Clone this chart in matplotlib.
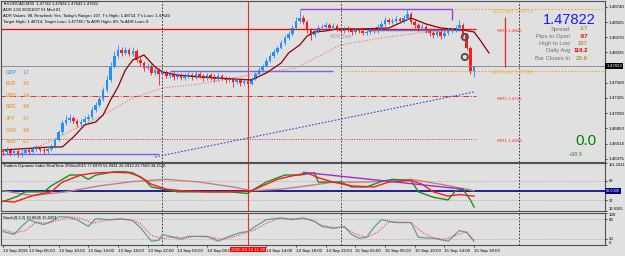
import numpy as np
import matplotlib.pyplot as plt
import matplotlib.transforms as mtransforms

# EURCAD M30, one bar per half hour from 13 Sep 02:30 to 15 Sep 18:00
opens = [1.46499, 1.46484, 1.46515, 1.46468, 1.46499, 1.46437, 1.46468, 1.46515,
         1.46484, 1.46531, 1.46546, 1.46515, 1.46499, 1.46531, 1.46562, 1.46671,
         1.46795, 1.46935, 1.46982, 1.47013, 1.46966, 1.46920, 1.46951, 1.46997,
         1.47028, 1.47137, 1.47215, 1.47309, 1.47449, 1.47604, 1.47822, 1.47978,
         1.48071, 1.48024, 1.48071, 1.48009, 1.48055, 1.47915, 1.47869, 1.47791,
         1.47822, 1.47713, 1.47760, 1.47698, 1.47729, 1.47666, 1.47698, 1.47651,
         1.47682, 1.47635, 1.47666, 1.47682, 1.47651, 1.47698, 1.47666, 1.47635,
         1.47682, 1.47651, 1.47620, 1.47666, 1.47635, 1.47604, 1.47620, 1.47573,
         1.47604, 1.47558, 1.47589, 1.47542, 1.47620, 1.47698, 1.47760, 1.47822,
         1.47900, 1.47978, 1.48040, 1.48102, 1.48180, 1.48258, 1.48320, 1.48413,
         1.48522, 1.48569, 1.48507, 1.48382, 1.48305, 1.48367, 1.48413, 1.48429,
         1.48460, 1.48413, 1.48444, 1.48398, 1.48367, 1.48413, 1.48382, 1.48351,
         1.48382, 1.48367, 1.48336, 1.48351, 1.48382, 1.48367, 1.48429, 1.48476,
         1.48538, 1.48507, 1.48522, 1.48553, 1.48522, 1.48569, 1.48631, 1.48507,
         1.48460, 1.48413, 1.48429, 1.48382, 1.48336, 1.48305, 1.48351, 1.48289,
         1.48336, 1.48367, 1.48382, 1.48413, 1.48460, 1.48305, 1.48102, 1.47742]
highs = [1.46530, 1.46560, 1.46540, 1.46530, 1.46520, 1.46510, 1.46560, 1.46540,
         1.46580, 1.46600, 1.46580, 1.46560, 1.46570, 1.46610, 1.46700, 1.46830,
         1.46980, 1.47060, 1.47070, 1.47040, 1.46990, 1.47000, 1.47050, 1.47080,
         1.47180, 1.47260, 1.47360, 1.47500, 1.47660, 1.47880, 1.48050, 1.48150,
         1.48110, 1.48120, 1.48100, 1.48110, 1.48080, 1.47960, 1.47900, 1.47870,
         1.47850, 1.47800, 1.47790, 1.47770, 1.47760, 1.47740, 1.47730, 1.47720,
         1.47710, 1.47720, 1.47730, 1.47710, 1.47740, 1.47730, 1.47700, 1.47720,
         1.47710, 1.47690, 1.47710, 1.47700, 1.47670, 1.47660, 1.47650, 1.47640,
         1.47630, 1.47620, 1.47610, 1.47650, 1.47730, 1.47800, 1.47860, 1.47940,
         1.48020, 1.48080, 1.48140, 1.48220, 1.48300, 1.48370, 1.48460, 1.48580,
         1.48700, 1.48610, 1.48540, 1.48410, 1.48410, 1.48460, 1.48480, 1.48510,
         1.48490, 1.48490, 1.48470, 1.48430, 1.48450, 1.48440, 1.48410, 1.48420,
         1.48420, 1.48400, 1.48390, 1.48420, 1.48420, 1.48470, 1.48520, 1.48580,
         1.48570, 1.48570, 1.48600, 1.48590, 1.48610, 1.48714, 1.48660, 1.48540,
         1.48490, 1.48470, 1.48460, 1.48410, 1.48370, 1.48390, 1.48380, 1.48380,
         1.48410, 1.48430, 1.48460, 1.48540, 1.48490, 1.48330, 1.48130, 1.47824]
lows = [1.46440, 1.46450, 1.46420, 1.46430, 1.46400, 1.46410, 1.46450, 1.46450,
        1.46470, 1.46500, 1.46480, 1.46460, 1.46470, 1.46500, 1.46540, 1.46650,
        1.46770, 1.46900, 1.46950, 1.46930, 1.46870, 1.46890, 1.46930, 1.46970,
        1.47000, 1.47100, 1.47190, 1.47280, 1.47420, 1.47580, 1.47790, 1.47950,
        1.47980, 1.47990, 1.47970, 1.47980, 1.47880, 1.47820, 1.47740, 1.47760,
        1.47680, 1.47680, 1.47530, 1.47660, 1.47630, 1.47640, 1.47610, 1.47620,
        1.47600, 1.47600, 1.47630, 1.47610, 1.47620, 1.47630, 1.47590, 1.47600,
        1.47610, 1.47580, 1.47590, 1.47600, 1.47560, 1.47570, 1.47500, 1.47540,
        1.47510, 1.47530, 1.47480, 1.47520, 1.47600, 1.47670, 1.47740, 1.47800,
        1.47880, 1.47950, 1.48010, 1.48080, 1.48150, 1.48230, 1.48290, 1.48390,
        1.48490, 1.48470, 1.48340, 1.48230, 1.48280, 1.48340, 1.48380, 1.48400,
        1.48380, 1.48380, 1.48360, 1.48330, 1.48340, 1.48350, 1.48310, 1.48320,
        1.48330, 1.48300, 1.48300, 1.48320, 1.48330, 1.48340, 1.48400, 1.48450,
        1.48470, 1.48480, 1.48490, 1.48490, 1.48490, 1.48540, 1.48470, 1.48420,
        1.48370, 1.48380, 1.48340, 1.48290, 1.48250, 1.48270, 1.48240, 1.48260,
        1.48300, 1.48330, 1.48350, 1.48380, 1.48280, 1.48070, 1.47700, 1.47643]
closes = [1.46484, 1.46515, 1.46468, 1.46499, 1.46437, 1.46468, 1.46515, 1.46484,
          1.46531, 1.46546, 1.46515, 1.46499, 1.46531, 1.46562, 1.46671, 1.46795,
          1.46935, 1.46982, 1.47013, 1.46966, 1.46920, 1.46951, 1.46997, 1.47028,
          1.47137, 1.47215, 1.47309, 1.47449, 1.47604, 1.47822, 1.47978, 1.48071,
          1.48024, 1.48071, 1.48009, 1.48055, 1.47915, 1.47869, 1.47791, 1.47822,
          1.47713, 1.47760, 1.47698, 1.47729, 1.47666, 1.47698, 1.47651, 1.47682,
          1.47635, 1.47666, 1.47682, 1.47651, 1.47698, 1.47666, 1.47635, 1.47682,
          1.47651, 1.47620, 1.47666, 1.47635, 1.47604, 1.47620, 1.47573, 1.47604,
          1.47558, 1.47589, 1.47542, 1.47620, 1.47698, 1.47760, 1.47822, 1.47900,
          1.47978, 1.48040, 1.48102, 1.48180, 1.48258, 1.48320, 1.48413, 1.48522,
          1.48569, 1.48507, 1.48382, 1.48305, 1.48367, 1.48413, 1.48429, 1.48460,
          1.48413, 1.48444, 1.48398, 1.48367, 1.48413, 1.48382, 1.48351, 1.48382,
          1.48367, 1.48336, 1.48351, 1.48382, 1.48367, 1.48429, 1.48476, 1.48538,
          1.48507, 1.48522, 1.48553, 1.48522, 1.48569, 1.48631, 1.48507, 1.48460,
          1.48413, 1.48429, 1.48382, 1.48336, 1.48305, 1.48351, 1.48289, 1.48336,
          1.48367, 1.48382, 1.48413, 1.48460, 1.48305, 1.48102, 1.47742, 1.47822]

# moving averages (at a few bars)
fast_bars = [0, 13, 16, 19, 22, 25, 27, 29, 31, 33, 35, 38, 41, 43, 47, 53, 67, 71,
             75, 77, 80, 82, 84, 87, 90, 96, 104, 107, 110, 114, 118, 124, 127, 129, 131]
fast_ma = [1.46515, 1.46562, 1.46562, 1.46717, 1.46904, 1.46951, 1.47060, 1.47293,
           1.47495, 1.47760, 1.47915, 1.47993, 1.47806, 1.47729, 1.47682, 1.47651,
           1.47604, 1.47713, 1.47869, 1.48024, 1.48149, 1.48289, 1.48351, 1.48367,
           1.48398, 1.48398, 1.48413, 1.48491, 1.48569, 1.48476, 1.48413, 1.48382,
           1.48351, 1.48196, 1.48024]
slow_bars = [0, 10, 20, 26, 35, 43, 53, 68, 79, 91, 102, 112, 122, 127]
slow_ma = [1.46437, 1.46577, 1.46857, 1.47028, 1.47324, 1.47480, 1.47542, 1.47698,
           1.47791, 1.48149, 1.48258, 1.48336, 1.48382, 1.48382]

# Traders Dynamic Index
tdi_green_bars = [0, 4, 6, 11, 13, 15, 18, 21, 23, 25, 30, 33, 35, 38, 40, 43, 47, 53, 58, 61,
                  66, 67, 71, 76, 80, 84, 85, 91, 94, 98, 102, 105, 110, 112, 116, 120, 122, 124, 126, 127]
tdi_green = [30, 40, 48, 48, 59, 67, 79, 79, 71, 79, 85, 85, 83, 71, 57, 53, 48, 48, 48, 48,
             45, 50, 66, 79, 79, 83, 66, 66, 57, 57, 67, 71, 69, 48, 38, 33, 50, 53, 33, 20]
tdi_red_bars = [0, 3, 8, 13, 16, 21, 25, 30, 34, 37, 40, 44, 48, 55, 62, 67, 70, 74, 77, 82,
                85, 89, 94, 100, 104, 110, 113, 116, 120, 123, 127]
tdi_red = [31, 29, 41, 48, 66, 79, 83, 84, 83, 76, 62, 53, 50, 48, 48, 50, 59, 71, 76, 83,
           74, 66, 59, 57, 66, 69, 62, 48, 40, 43, 40]
tdi_base_bars = [0, 8, 17, 26, 35, 44, 53, 62, 67, 75, 82, 89, 98, 110, 118, 127]
tdi_base = [50, 41, 48, 59, 67, 71, 66, 57, 50, 53, 59, 66, 66, 71, 62, 50]

# Stochastic 8,3,3
stoch_bars = [0, 3, 5, 7, 9, 11, 13, 15, 17, 20, 23, 25, 29, 32, 35, 37, 40, 42, 43, 46,
              48, 50, 55, 58, 61, 64, 66, 68, 71, 75, 78, 81, 84, 86, 89, 92, 94, 96, 98, 100,
              102, 106, 110, 112, 116, 120, 123, 125, 127]
stoch_main = [42, 33, 58, 79, 70, 64, 73, 88, 88, 79, 58, 82, 79, 82, 76, 55, 12, 15, 33, 24,
              18, 27, 27, 12, 27, 39, 42, 58, 79, 85, 79, 85, 73, 58, 52, 58, 33, 21, 24, 55,
              79, 70, 70, 24, 21, 12, 45, 39, 11]
stoch_sig_bars = [0, 3, 6, 9, 12, 15, 18, 21, 24, 27, 30, 34, 37, 40, 43, 46, 49, 52, 56, 59,
                  62, 65, 68, 71, 74, 77, 80, 83, 86, 89, 92, 95, 98, 101, 104, 107, 110, 113, 116, 119,
                  122, 125, 127]
stoch_signal = [48, 38, 45, 72, 68, 78, 88, 84, 68, 75, 80, 80, 68, 30, 20, 26, 22, 27, 24, 18,
                25, 36, 48, 68, 82, 82, 82, 80, 62, 55, 55, 35, 24, 40, 72, 72, 70, 40, 22, 18,
                30, 42, 15]

# levels
day_open = 1.48392
bid = 1.47822
adr_high = 1.48714
adr_low = 1.47738
wr2 = 1.47350
wr1 = 1.46690

price_ticks = [1.48740, 1.48505, 1.48270, 1.48035, 1.47560, 1.47325, 1.47090,
               1.46850, 1.46615, 1.46375]
time_bars = [0, 7, 15, 23, 31, 39, 47, 55, 71, 79, 87, 95, 103, 111, 119, 127]
time_labels = ['13 Sep 2016', '13 Sep 06:00', '13 Sep 10:00', '13 Sep 14:00', '13 Sep 18:00',
               '13 Sep 22:00', '14 Sep 02:00', '14 Sep 06:00', '14 Sep 14:00', '14 Sep 18:00',
               '14 Sep 22:00', '15 Sep 02:00', '15 Sep 06:00', '15 Sep 10:00', '15 Sep 14:00',
               '15 Sep 18:00']
currencies = ['GBP', 'EUR', 'USD', 'NZD', 'JPY', 'CAD', 'AUD']
strength = ['1.7', '3.0', '3.4', '4.6', '4.7', '4.9', '6.3']
info_labels = ['Spread', 'Pips to Open', 'High to Low', 'Daily Avg', 'Bar Closes In']
info_values = ['3.7', '-57', '107', '119.2', '23:6']

BG = '#e0e0e0'
W, H = 625, 256
plt.rcParams['font.family'] = ['Liberation Sans', 'DejaVu Sans']

fig = plt.figure(figsize=(W / 100, H / 100), dpi=100, facecolor=BG)


def pane(top, bottom):
    ax = fig.add_axes([1 / W, 1 - bottom / H, 604 / W, (bottom - top) / H])
    ax.set_facecolor(BG)
    for s in ax.spines.values():
        s.set_color('#505050')
        s.set_linewidth(0.8)
    ax.set_xlim(-0.54, 162.3)
    ax.yaxis.tick_right()
    ax.tick_params(axis='y', labelsize=3.2, length=1.5, width=0.5, pad=1)
    ax.tick_params(axis='x', length=0)
    ax.set_xticks([])
    return ax


def ftext(x, y, s, **kw):
    kw.setdefault('va', 'center')
    fig.text(x / W, 1 - y / H, s, **kw)


main = pane(1, 162)
tdi = pane(163, 211)
sto = pane(213, 245)

main.set_ylim(1.46328, 1.48833)
main.set_yticks(price_ticks)
main.set_yticklabels(['%.5f' % p for p in price_ticks])

# separators and the crosshair line
for ax in (main, tdi, sto):
    for d in (43, 91, 139):
        ax.axvline(d, color='#202020', lw=0.6, ls=(0, (2, 2)))
    ax.axvline(66, color='#e03030', lw=0.8)

# horizontal levels
main.hlines(day_open, -1, 127.5, color='#ff0000', lw=0.9)
main.axhline(bid, color='#909090', lw=0.7)
main.hlines([adr_high, adr_low], 91, 163, color='#f0a830', lw=0.8, ls=(0, (1.5, 1.5)))
main.hlines(wr2, -1, 127.5, color='#e03030', lw=0.7, ls='-.')
main.hlines(wr1, -1, 127.5, color='#e03030', lw=0.7, ls=(0, (1, 1.5)))
main.hlines([1.46453, 1.47745, 1.48382], [-1, 45, 98], [42, 89, 124], color='#6a6ae0', lw=1)
main.hlines(adr_high, 80, 121, color='#a040e0', lw=1)
main.vlines(121, 1.48530, adr_high, color='#a040e0', lw=1)
main.vlines(135.3, 1.47806, 1.48584, color='#ff2020', lw=0.9)
main.plot([41, 127], [1.46406, 1.47418], color='#4040d0', lw=0.8, ls=(0, (1.5, 1.5)))

# moving averages
main.plot(slow_bars, slow_ma, color='#f07070', lw=0.8, ls=(0, (1, 1.5)))
main.plot(fast_bars, fast_ma, color='#8b0000', lw=0.9)

# candles
bars = np.arange(len(closes))
o = np.array(opens)
c = np.array(closes)
cols = np.where(c >= o, '#1e90ff', '#ff1a1a')
main.vlines(bars, lows, highs, colors=cols, lw=0.6)
main.bar(bars, np.maximum(np.abs(c - o), 0.00004), bottom=np.minimum(o, c),
         width=0.7, color=cols, linewidth=0)

main.scatter([124.5, 124.5], [1.48273, 1.47962], s=20, facecolors='none',
             edgecolors='#505050', linewidths=1.4, zorder=5)

# current price box on the axis
tr = mtransforms.blended_transform_factory(main.transAxes, main.transData)
main.text(1.002, bid, '%.5f' % bid, transform=tr, fontsize=3.2, color='white',
          va='center', ha='left', bbox=dict(fc='black', ec='none', pad=0.6))

# Traders Dynamic Index pane
tdi.set_ylim(12.6165, 101.1811)
tdi.set_yticks([101.1811, 68, 32, 12.6165])
tdi.set_yticklabels(['101.1811', '68', '32', '12.6165'])
tdi.tick_params(axis='y', labelsize=2.9)
tl = tdi.get_yticklabels()
tl[0].set_va('top')
tl[-1].set_va('bottom')
tdi.axhline(50, color='#000080', lw=1.2)
tdi.axhline(68, color='#a0a0a0', lw=0.6, ls=(0, (1, 1.5)))
tdi.axhline(32, color='#a0a0a0', lw=0.6, ls=(0, (1, 1.5)))
tdi.plot(tdi_base_bars, tdi_base, color='#c08080', lw=1)
tdi.plot(tdi_green_bars, tdi_green, color='#1e8c1e', lw=1)
tdi.plot(tdi_red_bars, tdi_red, color='#ff1a1a', lw=1)
tdi.plot([81, 124], [84, 53], color='#9932cc', lw=1)
tr = mtransforms.blended_transform_factory(tdi.transAxes, tdi.transData)
tdi.text(1.002, 50, '50.0000', transform=tr, fontsize=2.9, color='white',
         va='center', ha='left', bbox=dict(fc='#000080', ec='none', pad=0.6))

# Stochastic pane
sto.set_ylim(0, 100)
sto.set_yticks([100, 80, 20, 0])
sto.set_yticklabels(['100', '80', '20', '0'])
sl = sto.get_yticklabels()
sl[0].set_va('top')
sl[-1].set_va('bottom')
sto.axhline(80, color='#a0a0a0', lw=0.6, ls=(0, (1, 1.5)))
sto.axhline(20, color='#a0a0a0', lw=0.6, ls=(0, (1, 1.5)))
sto.plot(stoch_bars, stoch_main, color='#5f9ea0', lw=0.9)
sto.plot(stoch_sig_bars, stoch_signal, color='#ff4040', lw=0.8, ls=(0, (1, 1.2)))
sto.set_xticks(time_bars)
sto.set_xticklabels(time_labels, fontsize=3.2, ha='left')
sto.tick_params(axis='x', length=1.5, width=0.5, pad=1.5)
sto.text(66, -8, '2016.09.14 11:30', transform=sto.transData, fontsize=3.2, color='white',
         ha='center', va='top', bbox=dict(fc='#ff0000', ec='none', pad=0.6), clip_on=False)

# header texts
ftext(3, 4, '\u25bcEURCAD,M30  1.47742 1.47824 1.47643 1.47822', fontsize=3)
ftext(3, 10, 'ADR 1.00 20051027 01 Mod 01', fontsize=3)
ftext(3, 16, "ADR Values: 98, Reached= Yes, Today's Range= 107, T's High= 1.48714, T's Low= 1.47643", fontsize=3)
ftext(3, 22, 'Target High= 1.48714, Target Low= 1.47738 / To ADR High= 89, To ADR Low= 8', fontsize=3)
ftext(3, 166, 'Traders Dynamic Index RealTime 25Nov2015 77.6970 51.9941 26.2912 23.7569 38.1526', fontsize=3)
ftext(3, 218, 'Stoch(8,3,3) 10.8626 15.0261', fontsize=3)

# currency strength list
for i, (cur, val) in enumerate(zip(currencies, strength)):
    col = '#6fa8dc' if i == 0 else '#f0a040'
    ftext(6, 72 + i * 11.6, cur, fontsize=3.6, color=col, fontweight='bold')
    ftext(23, 72 + i * 11.6, val, fontsize=3.6, color=col, fontweight='bold')

# level labels
ftext(492, 11, 'ADR High: 1.48714', fontsize=3.4, color='#f0b050')
ftext(492, 73, 'ADR Low: 1.47738', fontsize=3.4, color='#f0b050')
ftext(497, 31, 'WR3 1.4840', fontsize=3.2, color='#ff3030')
ftext(497, 99, 'WR2 1.4735', fontsize=3.2, color='#ff3030')
ftext(497, 141, 'WR1 1.4669', fontsize=3.2, color='#ff3030')
ftext(330, 36, 'ADR Start', fontsize=3.4, color='#8fa0b8')

# info panel
ftext(596, 20, '1.47822', fontsize=10.5, color='#1a1aff', ha='right')
val_cols = ['#a89a30', '#ff0000', '#a89a30', '#ff0000', '#a89a30']
for i, (lab, val) in enumerate(zip(info_labels, info_values)):
    y = 29 + i * 7.3
    ftext(570, y, lab, fontsize=4.2, color='#707070', ha='right')
    ftext(588, y, val, fontsize=4.2, color=val_cols[i], ha='right', fontweight='bold')
ftext(596, 141, '0.0', fontsize=11, color='#008000', ha='right')
ftext(583, 155, '+38.9', fontsize=4, color='#2e8b2e', ha='right')

fig.savefig('out.png', dpi=100, facecolor=BG)
